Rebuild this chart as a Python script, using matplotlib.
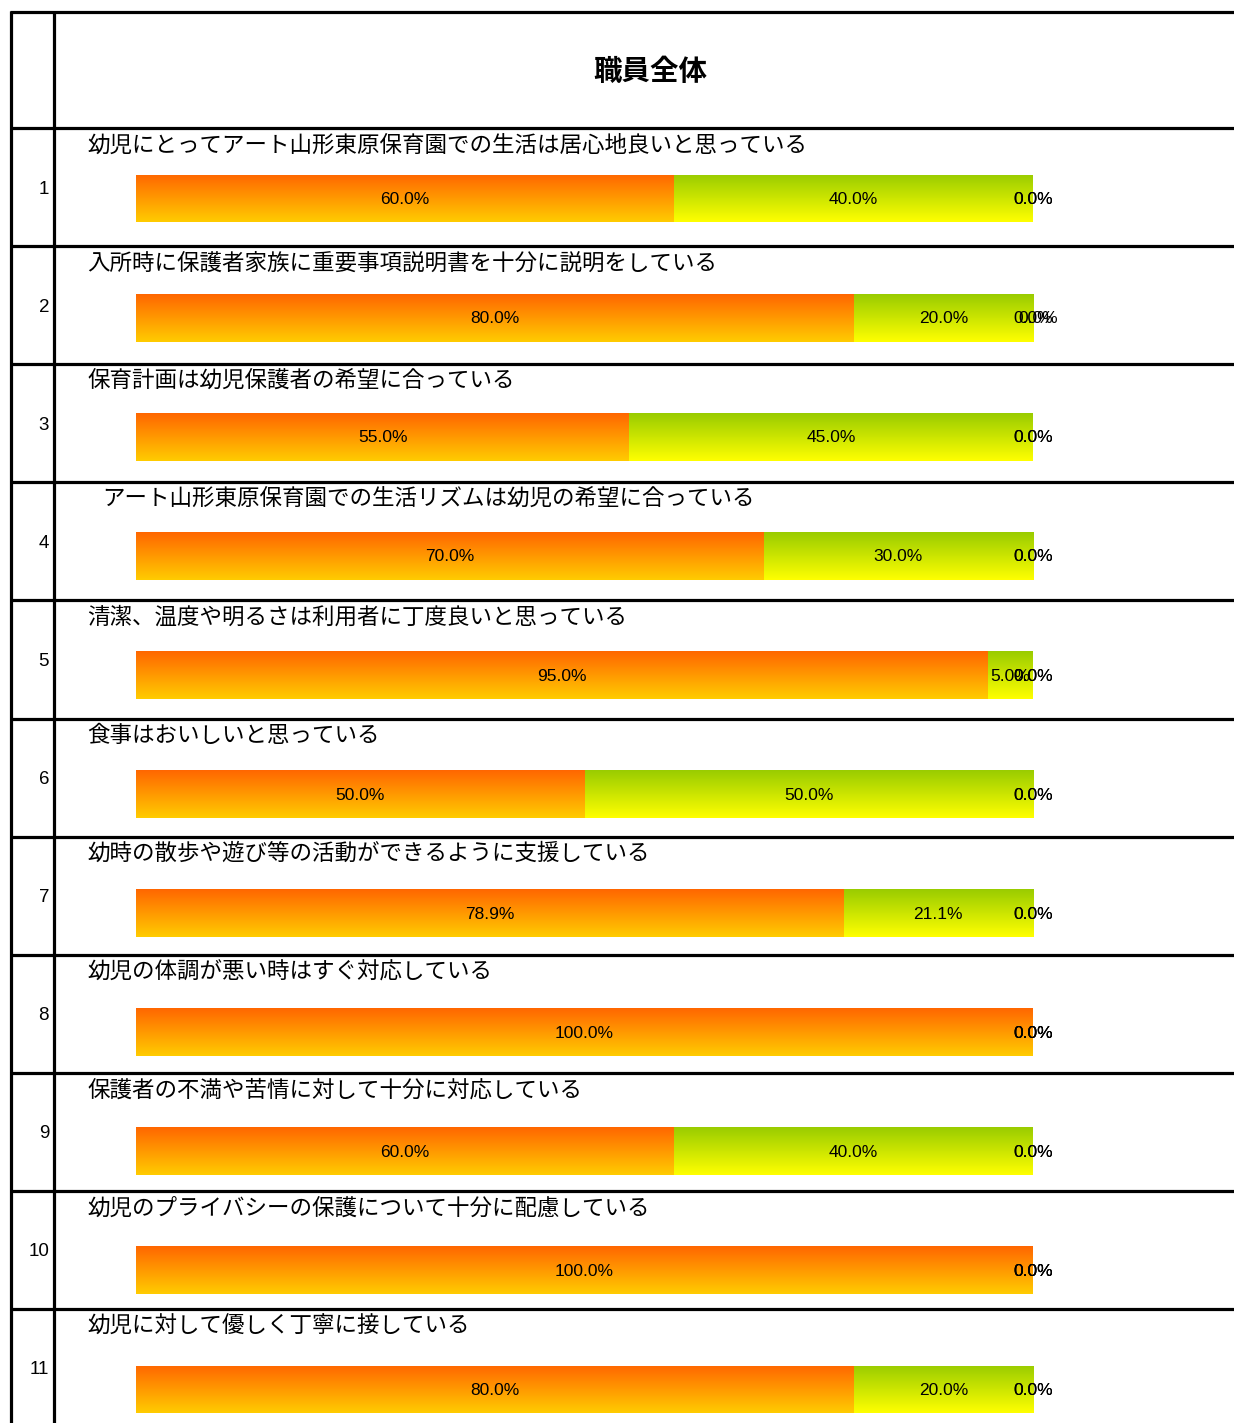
import numpy as np
import matplotlib
matplotlib.use("Agg")
import matplotlib.pyplot as plt
from matplotlib.colors import to_rgb

plt.rcParams['font.family'] = ['Noto Sans CJK JP', 'DejaVu Sans']

title = "職員全体"
questions = [
    "幼児にとってアート山形東原保育園での生活は居心地良いと思っている",
    "入所時に保護者家族に重要事項説明書を十分に説明をしている",
    "保育計画は幼児保護者の希望に合っている",
    "アート山形東原保育園での生活リズムは幼児の希望に合っている",
    "清潔、温度や明るさは利用者に丁度良いと思っている",
    "食事はおいしいと思っている",
    "幼時の散歩や遊び等の活動ができるように支援している",
    "幼児の体調が悪い時はすぐ対応している",
    "保護者の不満や苦情に対して十分に対応している",
    "幼児のプライバシーの保護について十分に配慮している",
    "幼児に対して優しく丁寧に接している",
]
yes_pct = [60.0, 80.0, 55.0, 70.0, 95.0, 50.0, 78.9, 100.0, 60.0, 100.0, 80.0]
mid_pct = [40.0, 20.0, 45.0, 30.0, 5.0, 50.0, 21.1, 0.0, 40.0, 0.0, 20.0]
no_pct = [0.0] * 11
na_pct = [0.0] * 11

# gradient colours (top, bottom) per series
grads = [("#FF6600", "#FFCC00"), ("#99CC00", "#FFFF00"),
         ("#3366FF", "#99CCFF"), ("#999999", "#DDDDDD")]

W, H = 1234, 1423
fig = plt.figure(figsize=(W / 100, H / 100), dpi=100)

# background axes in pixel units for the table grid and texts
bg = fig.add_axes([0, 0, 1, 1])
bg.set_xlim(0, W)
bg.set_ylim(H, 0)
bg.axis("off")

row_top0, row_h = 128, 118.1
lw = 2.3
bg.plot([10, W], [12, 12], color="black", lw=lw, solid_capstyle="butt")
for i in range(len(questions)):
    y = row_top0 + i * row_h
    bg.plot([10, W], [y, y], color="black", lw=lw, solid_capstyle="butt")
bg.plot([11, 11], [11, H], color="black", lw=lw, solid_capstyle="butt")
bg.plot([54, 54], [11, H], color="black", lw=lw, solid_capstyle="butt")

bg.text(650, 72, title, ha="center", va="center", fontsize=20.5, fontweight="bold")

num_font = ["Liberation Sans", "DejaVu Sans"]
indent = {3: 15}
for i, q in enumerate(questions):
    y = row_top0 + i * row_h
    bg.text(49, y + 61, str(i + 1), ha="right", va="center", fontsize=13.5,
            family=num_font)
    bg.text(87 + indent.get(i, 0), y + 17, q, ha="left", va="center", fontsize=16.2)

# bar axes
left, right = 136, 1033
pitch, c0 = 119.1, 198.5
top = c0 - pitch / 2
bottom = top + len(questions) * pitch
ax = fig.add_axes([left / W, (H - bottom) / H, (right - left) / W, (bottom - top) / H])
ax.axis("off")

bar_h = 48 / pitch
n = 256
series = [yes_pct, mid_pct, no_pct, na_pct]
ypos = np.arange(len(questions))
base = np.zeros(len(questions))
nudge = {(1, 3): 0.006}
for k, vals in enumerate(series):
    vals = np.array(vals) / 100.0
    bars = ax.barh(ypos, vals, left=base, height=bar_h, color="none", edgecolor="none")
    c_top, c_bot = np.array(to_rgb(grads[k][0])), np.array(to_rgb(grads[k][1]))
    t = np.linspace(0, 1, n)[:, None]
    img = (c_top * (1 - t) + c_bot * t)[:, None, :]
    for b, v in zip(bars, vals):
        x0, y0, w, h = b.get_x(), b.get_y(), b.get_width(), b.get_height()
        if w > 0:
            im = ax.imshow(img, extent=(x0, x0 + w, y0 + h, y0), origin="upper",
                           aspect="auto", interpolation="bilinear", zorder=1)
            im.set_clip_path(b)
    for i, v in enumerate(vals):
        xc = base[i] + v / 2 + nudge.get((i, k), 0)
        ax.text(xc, ypos[i] + 0.01, f"{v * 100:.1f}%", ha="center", va="center",
                fontsize=12.5, family=num_font, zorder=3)
    base = base + vals

ax.set_xlim(0, 1)
ax.set_ylim(len(questions) - 0.5, -0.5)

fig.savefig("out.png", dpi=100)
